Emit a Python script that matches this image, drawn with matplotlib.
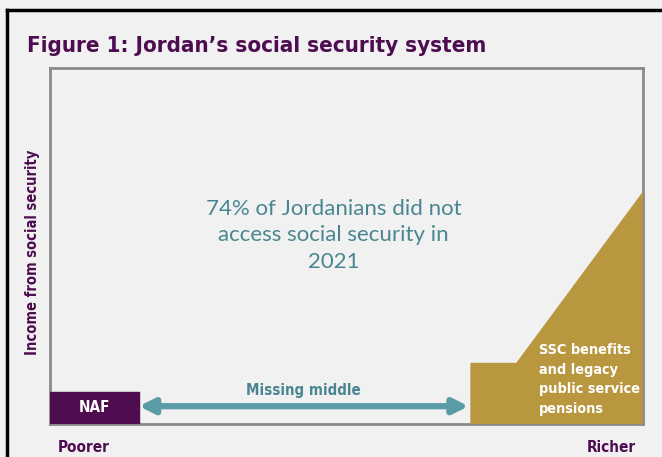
import numpy as np
import matplotlib.pyplot as plt
from matplotlib.patches import Polygon, Rectangle
from matplotlib.lines import Line2D

# Data (schematic: x = income position, y = income from social security)
naf_x = [0, 15]
naf_height = 9
ssc_x = [71, 71, 78.7, 100, 100]
ssc_y = [0, 17, 17, 65, 0]
gap_x = [15, 70.6]
gap_y = 5

title = 'Figure 1: Jordan\u2019s social security system'
note = '74% of Jordanians did not\naccess social security in\n2021'
ssc_label = 'SSC benefits\nand legacy\npublic service\npensions'

# Colours
bg = '#f1f1f1'
purple = '#4e0d50'
gold = '#b8973f'
teal = '#5a9ca6'
teal_text = '#4a8691'
cond = dict(family='DejaVu Sans', fontstretch='condensed', fontweight='bold')

fig = plt.figure(figsize=(6.62, 4.57), dpi=100, facecolor=bg)
ax = fig.add_axes([50/662, 1-424/457, 593/662, 356/457])
ax.set_facecolor(bg)
ax.set_xlim(0, 100)
ax.set_ylim(0, 100)
ax.set_xticks([])
ax.set_yticks([])
for s in ax.spines.values():
    s.set_color('#8a8a8a')
    s.set_linewidth(2)

# NAF block
ax.add_patch(Rectangle((naf_x[0], 0), naf_x[1]-naf_x[0], naf_height,
                       color=purple, zorder=3))
ax.text(np.mean(naf_x), naf_height/2, 'NAF', color='white', ha='center',
        va='center', fontsize=11, zorder=4, **cond)

# SSC shape
ax.add_patch(Polygon(list(zip(ssc_x, ssc_y)), closed=True, color=gold, zorder=3))
ax.text(82.4, 12.5, ssc_label, color='white', ha='left', va='center',
        fontsize=10.4, linespacing=1.5, zorder=4, **cond)

# Missing middle arrow
ax.annotate('', xy=(gap_x[1], gap_y), xytext=(gap_x[0], gap_y),
            arrowprops=dict(arrowstyle='<|-|>', color=teal, lw=4.5,
                            mutation_scale=22, shrinkA=0, shrinkB=0))
ax.text(np.mean(gap_x), 9.5, 'Missing middle', color=teal_text, ha='center',
        va='center', fontsize=10.8, **cond)

# Central note
ax.text(47.8, 53.0, note, color=teal_text, ha='center', va='center',
        fontsize=16, family=['Lato', 'DejaVu Sans'], linespacing=1.42)

# Labels
fig.text(27/662, 1-52/457, title, color=purple, fontsize=16,
         ha='left', va='baseline', **cond)
fig.text(33/662, 1-252/457, 'Income from social security', color=purple,
         rotation=90, fontsize=10.5, ha='center', va='center', **cond)
fig.text(58/662, 1-447/457, 'Poorer', color=purple, fontsize=11,
         ha='left', va='center', **cond)
fig.text(636/662, 1-447/457, 'Richer', color=purple, fontsize=11,
         ha='right', va='center', **cond)

# Outer black frame (left and top edges visible)
fig.add_artist(Line2D([7/662, 7/662], [0, 1-10/457], color='black', lw=2.5))
fig.add_artist(Line2D([7/662, 1], [1-10/457, 1-10/457], color='black', lw=2.5))

fig.savefig('out.png', dpi=100, facecolor=bg)
